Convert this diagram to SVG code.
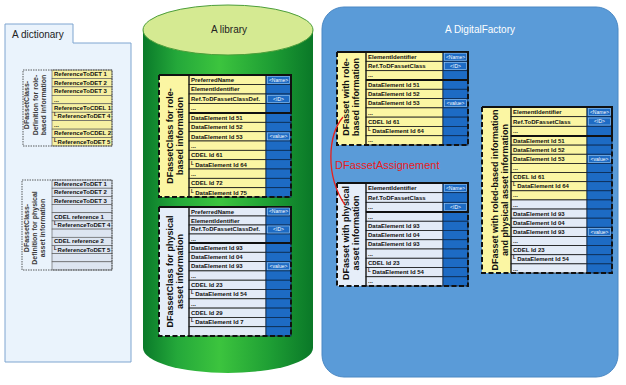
<svg xmlns="http://www.w3.org/2000/svg" width="626" height="385" viewBox="0 0 626 385">
<style>
.ry{fill:#fbf6a3;stroke:#1a1a1a;stroke-width:.8}
.rb{fill:#e3ebf7;stroke:#1a1a1a;stroke-width:.8}
.vc{fill:#1d6bc4;stroke:#0d2b52;stroke-width:.8}
.ly{fill:#fbf6a3}
.lb{fill:#e6eef9}
.dash{fill:none;stroke:#111;stroke-width:2;stroke-dasharray:5 2.5}
.solid{fill:none;stroke:#111;stroke-width:2}
.sep{stroke:#111;stroke-width:1}
.t{font-family:"Liberation Sans",Arial,sans-serif;font-weight:bold;font-size:6px;fill:#111}
.m{font-size:4.5px}
.v{font-family:"Liberation Sans",Arial,sans-serif;font-size:5px;fill:#fff;text-anchor:middle}
.vb{fill:none;stroke:#9cc8f2;stroke-width:.6}
.lab{font-family:"Liberation Sans",Arial,sans-serif;font-weight:bold;font-size:9px;fill:#111;text-anchor:middle}
.dlab{font-family:"Liberation Sans",Arial,sans-serif;font-weight:bold;font-size:7px;fill:#3a3a3a;text-anchor:middle}
.dry{fill:#f6f0a2;stroke:#555;stroke-width:.6}
.drb{fill:#dde5f1;stroke:#555;stroke-width:.6}
.ddash{fill:none;stroke:#333;stroke-width:.8;stroke-dasharray:1.5 1}
.title{font-family:"Liberation Sans",Arial,sans-serif;font-size:10px;fill:#222}
</style>
<defs>
<linearGradient id="cyl" x1="0" y1="0" x2="1" y2="0">
<stop offset="0" stop-color="#0a7a2a"/>
<stop offset="0.2" stop-color="#24a83a"/>
<stop offset="0.45" stop-color="#3cc43e"/>
<stop offset="0.75" stop-color="#1e9e34"/>
<stop offset="1" stop-color="#0a7828"/>
</linearGradient>
</defs>

<g id="dictionary">
<path d="M5 43 V24 H73 V43 H131 V362 H5 Z" fill="#eaf3fc" stroke="#7fa5d0" stroke-width="1"/>
<text class="title" x="12" y="38">A dictionary</text>
</g>

<g id="dict-role">
<rect x="23" y="70" width="29" height="76" fill="#eaf3fc"/>
<rect class="dry" x="52" y="70" width="60" height="8.44"/>
<rect class="dry" x="52" y="78.44" width="60" height="8.44"/>
<rect class="dry" x="52" y="86.89" width="60" height="8.44"/>
<rect class="dry" x="52" y="95.33" width="60" height="8.44"/>
<rect class="dry" x="52" y="103.78" width="60" height="8.44"/>
<rect class="dry" x="52" y="112.22" width="60" height="8.44"/>
<rect class="dry" x="52" y="120.67" width="60" height="8.44"/>
<rect class="dry" x="52" y="129.11" width="60" height="8.44"/>
<rect class="dry" x="52" y="137.56" width="60" height="8.44"/>
<rect class="ddash" x="23" y="70" width="89" height="76"/>
<text class="t" x="54" y="76.2">ReferenceToDET 1</text>
<text class="t" x="54" y="84.6">ReferenceToDET 2</text>
<text class="t" x="54" y="93.1">ReferenceToDET 3</text>
<text class="t" x="54" y="101.5">...</text>
<text class="t" x="54" y="110">ReferenceToCDEL 1</text>
<text class="t" x="54" y="118.4"><tspan class="m" dy="-2">L</tspan><tspan dx="0.8" dy="2">ReferenceToDET 4</tspan></text>
<text class="t" x="54" y="126.9">...</text>
<text class="t" x="54" y="135.3">ReferenceToCDEL 2</text>
<text class="t" x="54" y="143.8"><tspan class="m" dy="-2">L</tspan><tspan dx="0.8" dy="2">ReferenceToDET 5</tspan></text>
<text class="dlab" transform="translate(29.3,105) rotate(-90)">DFassetClass-</text>
<text class="dlab" transform="translate(37.6,105) rotate(-90)">Definition for role-</text>
<text class="dlab" transform="translate(45.9,105) rotate(-90)">based information</text>
</g>

<g id="dict-physical">
<rect x="22" y="180" width="30" height="90" fill="#eaf3fc"/>
<rect class="drb" x="52" y="180" width="60" height="8.18"/>
<rect class="drb" x="52" y="188.18" width="60" height="8.18"/>
<rect class="drb" x="52" y="196.36" width="60" height="8.18"/>
<rect class="drb" x="52" y="204.55" width="60" height="8.18"/>
<rect class="drb" x="52" y="212.73" width="60" height="8.18"/>
<rect class="drb" x="52" y="220.91" width="60" height="8.18"/>
<rect class="drb" x="52" y="229.09" width="60" height="8.18"/>
<rect class="drb" x="52" y="237.27" width="60" height="8.18"/>
<rect class="drb" x="52" y="245.45" width="60" height="8.18"/>
<rect class="drb" x="52" y="253.64" width="60" height="8.18"/>
<rect class="drb" x="52" y="261.82" width="60" height="8.18"/>
<rect class="ddash" x="22" y="180" width="90" height="90"/>
<text class="t" x="54" y="186.1">ReferenceToDET 1</text>
<text class="t" x="54" y="194.3">ReferenceToDET 2</text>
<text class="t" x="54" y="202.5">ReferenceToDET 3</text>
<text class="t" x="54" y="218.8">CDEL reference 1</text>
<text class="t" x="54" y="227"><tspan class="m" dy="-2">L</tspan><tspan dx="0.8" dy="2">ReferenceToDET 4</tspan></text>
<text class="t" x="54" y="243.4">CDEL reference 2</text>
<text class="t" x="54" y="251.6"><tspan class="m" dy="-2">L</tspan><tspan dx="0.8" dy="2">ReferenceToDET 5</tspan></text>
<text class="dlab" transform="translate(28.5,228) rotate(-90)">DFassetClass-</text>
<text class="dlab" transform="translate(36.8,228) rotate(-90)">Definition for physical</text>
<text class="dlab" transform="translate(45.1,228) rotate(-90)">asset information</text>
</g>

<g id="library">
<path d="M143 30 V348 A85 25 0 0 0 313 348 V30 Z" fill="url(#cyl)"/>
<ellipse cx="228" cy="30" rx="85" ry="25" fill="#d5ea92" stroke="#4c9e3a" stroke-width="1"/>
<text class="title" x="229" y="33" text-anchor="middle">A library</text>
</g>

<g id="lib-role">
<rect class="ly" x="159" y="75" width="30" height="122"/>
<rect class="ry" x="189" y="75" width="77" height="9.5"/><rect class="vc" x="266" y="75" width="25" height="9.5"/>
<rect class="ry" x="189" y="84.5" width="77" height="9.5"/><rect class="vc" x="266" y="84.5" width="25" height="9.5"/>
<rect class="ry" x="189" y="94" width="77" height="9.5"/><rect class="vc" x="266" y="94" width="25" height="9.5"/>
<rect class="ry" x="189" y="103.5" width="77" height="9.5"/><rect class="vc" x="266" y="103.5" width="25" height="9.5"/>
<rect class="ry" x="189" y="113" width="77" height="9.33"/><rect class="vc" x="266" y="113" width="25" height="9.33"/>
<rect class="ry" x="189" y="122.33" width="77" height="9.33"/><rect class="vc" x="266" y="122.33" width="25" height="9.33"/>
<rect class="ry" x="189" y="131.67" width="77" height="9.33"/><rect class="vc" x="266" y="131.67" width="25" height="9.33"/>
<rect class="ry" x="189" y="141" width="77" height="9.33"/><rect class="vc" x="266" y="141" width="25" height="9.33"/>
<rect class="ry" x="189" y="150.33" width="77" height="9.33"/><rect class="vc" x="266" y="150.33" width="25" height="9.33"/>
<rect class="ry" x="189" y="159.67" width="77" height="9.33"/><rect class="vc" x="266" y="159.67" width="25" height="9.33"/>
<rect class="ry" x="189" y="169" width="77" height="9.33"/><rect class="vc" x="266" y="169" width="25" height="9.33"/>
<rect class="ry" x="189" y="178.33" width="77" height="9.33"/><rect class="vc" x="266" y="178.33" width="25" height="9.33"/>
<rect class="ry" x="189" y="187.67" width="77" height="9.33"/><rect class="vc" x="266" y="187.67" width="25" height="9.33"/>
<line class="sep" x1="189" y1="75" x2="189" y2="197"/>
<path class="dash" d="M159 75 V197 H291 V113"/>
<path class="solid" d="M159 75 H291 V113 H189"/>
<text class="t" x="191" y="81.8">PreferredName</text>
<text class="t" x="191" y="91.3">ElementIdentifier</text>
<text class="t" x="191" y="100.6" font-size="4.8">Ref.ToDFassetClassDef.</text>
<text class="t" x="191" y="110.3">...</text>
<text class="t" x="191" y="119.8">DataElement Id 51</text>
<text class="t" x="191" y="129.1">DataElement Id 52</text>
<text class="t" x="191" y="138.5">DataElement Id 53</text>
<text class="t" x="191" y="147.8">...</text>
<text class="t" x="191" y="157.1">CDEL Id 61</text>
<text class="t" x="191" y="166.5"><tspan class="m" dy="-2">L</tspan><tspan dx="1.5" dy="2">DataElement Id 64</tspan></text>
<text class="t" x="191" y="175.8">...</text>
<text class="t" x="191" y="185.1">CDEL Id 72</text>
<text class="t" x="191" y="194.5"><tspan class="m" dy="-2">L</tspan><tspan dx="1.5" dy="2">DataElement Id 75</tspan></text>
<rect class="vb" x="267.5" y="76.3" width="22" height="7"/><text class="v" x="278.5" y="81.6">&lt;Name&gt;</text>
<rect class="vb" x="267.5" y="95.3" width="22" height="7"/><text class="v" x="278.5" y="100.6">&lt;ID&gt;</text>
<rect class="vb" x="267.5" y="132.9" width="22" height="7"/><text class="v" x="278.5" y="138.2">&lt;value&gt;</text>
<text class="lab" transform="translate(172.5,136) rotate(-90)">DFassetClass for role-</text>
<text class="lab" transform="translate(182.5,136) rotate(-90)">based information</text>
</g>

<g id="lib-physical">
<rect class="lb" x="159" y="207" width="30" height="129"/>
<rect class="rb" x="189" y="207" width="77" height="9"/><rect class="vc" x="266" y="207" width="25" height="9"/>
<rect class="rb" x="189" y="216" width="77" height="9"/><rect class="vc" x="266" y="216" width="25" height="9"/>
<rect class="rb" x="189" y="225" width="77" height="9"/><rect class="vc" x="266" y="225" width="25" height="9"/>
<rect class="rb" x="189" y="234" width="77" height="9"/><rect class="vc" x="266" y="234" width="25" height="9"/>
<rect class="rb" x="189" y="243" width="77" height="9.3"/><rect class="vc" x="266" y="243" width="25" height="9.3"/>
<rect class="rb" x="189" y="252.3" width="77" height="9.3"/><rect class="vc" x="266" y="252.3" width="25" height="9.3"/>
<rect class="rb" x="189" y="261.6" width="77" height="9.3"/><rect class="vc" x="266" y="261.6" width="25" height="9.3"/>
<rect class="rb" x="189" y="270.9" width="77" height="9.3"/><rect class="vc" x="266" y="270.9" width="25" height="9.3"/>
<rect class="rb" x="189" y="280.2" width="77" height="9.3"/><rect class="vc" x="266" y="280.2" width="25" height="9.3"/>
<rect class="rb" x="189" y="289.5" width="77" height="9.3"/><rect class="vc" x="266" y="289.5" width="25" height="9.3"/>
<rect class="rb" x="189" y="298.8" width="77" height="9.3"/><rect class="vc" x="266" y="298.8" width="25" height="9.3"/>
<rect class="rb" x="189" y="308.1" width="77" height="9.3"/><rect class="vc" x="266" y="308.1" width="25" height="9.3"/>
<rect class="rb" x="189" y="317.4" width="77" height="9.3"/><rect class="vc" x="266" y="317.4" width="25" height="9.3"/>
<rect class="rb" x="189" y="326.7" width="77" height="9.3"/><rect class="vc" x="266" y="326.7" width="25" height="9.3"/>
<line class="sep" x1="189" y1="207" x2="189" y2="336"/>
<path class="dash" d="M159 207 V336 H291 V243"/>
<path class="solid" d="M159 207 H291 V243 H189"/>
<text class="t" x="191" y="213.5">PreferredName</text>
<text class="t" x="191" y="222.5">ElementIdentifier</text>
<text class="t" x="191" y="231.3" font-size="4.8">Ref.ToDFassetClassDef.</text>
<text class="t" x="191" y="240.5">...</text>
<text class="t" x="191" y="249.7">DataElement Id 93</text>
<text class="t" x="191" y="259">DataElement Id 04</text>
<text class="t" x="191" y="268.3">DataElement Id 93</text>
<text class="t" x="191" y="277.6">...</text>
<text class="t" x="191" y="286.9">CDEL Id 23</text>
<text class="t" x="191" y="296.2"><tspan class="m" dy="-2">L</tspan><tspan dx="1.5" dy="2">DataElement Id 54</tspan></text>
<text class="t" x="191" y="305.5">...</text>
<text class="t" x="191" y="314.8">CDEL Id 29</text>
<text class="t" x="191" y="324.1"><tspan class="m" dy="-2">L</tspan><tspan dx="1.5" dy="2">DataElement Id 7</tspan></text>
<rect class="vb" x="267.5" y="208" width="22" height="7"/><text class="v" x="278.5" y="213.3">&lt;Name&gt;</text>
<rect class="vb" x="267.5" y="226" width="22" height="7"/><text class="v" x="278.5" y="231.3">&lt;ID&gt;</text>
<rect class="vb" x="267.5" y="262.8" width="22" height="7"/><text class="v" x="278.5" y="268.1">&lt;value&gt;</text>
<text class="lab" transform="translate(172.5,271.5) rotate(-90)">DFassetClass for physical</text>
<text class="lab" transform="translate(182.5,271.5) rotate(-90)">asset information</text>
</g>

<g id="factory">
<rect x="322" y="7" width="296" height="370" rx="22" fill="#5a9bd8" stroke="#4a88c4" stroke-width="1"/>
<text class="title" x="480" y="33" text-anchor="middle" fill="#fff" style="fill:#fff">A DigitalFactory</text>
</g>

<g id="fac-role">
<rect class="ly" x="337" y="52" width="29" height="93"/>
<rect class="ry" x="366" y="52" width="77" height="9.33"/><rect class="vc" x="443" y="52" width="25" height="9.33"/>
<rect class="ry" x="366" y="61.33" width="77" height="9.33"/><rect class="vc" x="443" y="61.33" width="25" height="9.33"/>
<rect class="ry" x="366" y="70.67" width="77" height="9.33"/><rect class="vc" x="443" y="70.67" width="25" height="9.33"/>
<rect class="ry" x="366" y="80" width="77" height="9.29"/><rect class="vc" x="443" y="80" width="25" height="9.29"/>
<rect class="ry" x="366" y="89.29" width="77" height="9.29"/><rect class="vc" x="443" y="89.29" width="25" height="9.29"/>
<rect class="ry" x="366" y="98.57" width="77" height="9.29"/><rect class="vc" x="443" y="98.57" width="25" height="9.29"/>
<rect class="ry" x="366" y="107.86" width="77" height="9.29"/><rect class="vc" x="443" y="107.86" width="25" height="9.29"/>
<rect class="ry" x="366" y="117.14" width="77" height="9.29"/><rect class="vc" x="443" y="117.14" width="25" height="9.29"/>
<rect class="ry" x="366" y="126.43" width="77" height="9.29"/><rect class="vc" x="443" y="126.43" width="25" height="9.29"/>
<rect class="ry" x="366" y="135.71" width="77" height="9.29"/><rect class="vc" x="443" y="135.71" width="25" height="9.29"/>
<line class="sep" x1="366" y1="52" x2="366" y2="145"/>
<path class="dash" d="M337 52 V145 H468 V80"/>
<path class="solid" d="M337 52 H468 V80 H366"/>
<text class="t" x="368" y="58.6">ElementIdentifier</text>
<text class="t" x="368" y="67.9">Ref.ToDFassetClass</text>
<text class="t" x="368" y="77.3">...</text>
<text class="t" x="368" y="86.7">DataElement Id 51</text>
<text class="t" x="368" y="96">DataElement Id 52</text>
<text class="t" x="368" y="105.3">DataElement Id 53</text>
<text class="t" x="368" y="114.6">...</text>
<text class="t" x="368" y="123.8">CDEL Id 61</text>
<text class="t" x="368" y="133.1"><tspan class="m" dy="-2">L</tspan><tspan dx="1.5" dy="2">DataElement Id 64</tspan></text>
<text class="t" x="368" y="142.4">...</text>
<rect class="vb" x="444.5" y="53.2" width="22" height="7"/><text class="v" x="455.5" y="58.5">&lt;Name&gt;</text>
<rect class="vb" x="444.5" y="62.5" width="22" height="7"/><text class="v" x="455.5" y="67.8">&lt;ID&gt;</text>
<rect class="vb" x="444.5" y="99.7" width="22" height="7"/><text class="v" x="455.5" y="105">&lt;value&gt;</text>
<text class="lab" transform="translate(349,97) rotate(-90)">DFasset with role-</text>
<text class="lab" transform="translate(359,97) rotate(-90)">based information</text>
</g>

<g id="fac-physical">
<rect class="lb" x="337" y="183" width="29" height="103"/>
<rect class="rb" x="366" y="183" width="77" height="9.67"/><rect class="vc" x="443" y="183" width="25" height="9.67"/>
<rect class="rb" x="366" y="192.67" width="77" height="9.67"/><rect class="vc" x="443" y="192.67" width="25" height="9.67"/>
<rect class="rb" x="366" y="202.33" width="77" height="9.67"/><rect class="vc" x="443" y="202.33" width="25" height="9.67"/>
<rect class="rb" x="366" y="212" width="77" height="9.25"/><rect class="vc" x="443" y="212" width="25" height="9.25"/>
<rect class="rb" x="366" y="221.25" width="77" height="9.25"/><rect class="vc" x="443" y="221.25" width="25" height="9.25"/>
<rect class="rb" x="366" y="230.5" width="77" height="9.25"/><rect class="vc" x="443" y="230.5" width="25" height="9.25"/>
<rect class="rb" x="366" y="239.75" width="77" height="9.25"/><rect class="vc" x="443" y="239.75" width="25" height="9.25"/>
<rect class="rb" x="366" y="249" width="77" height="9.25"/><rect class="vc" x="443" y="249" width="25" height="9.25"/>
<rect class="rb" x="366" y="258.25" width="77" height="9.25"/><rect class="vc" x="443" y="258.25" width="25" height="9.25"/>
<rect class="rb" x="366" y="267.5" width="77" height="9.25"/><rect class="vc" x="443" y="267.5" width="25" height="9.25"/>
<rect class="rb" x="366" y="276.75" width="77" height="9.25"/><rect class="vc" x="443" y="276.75" width="25" height="9.25"/>
<line class="sep" x1="366" y1="183" x2="366" y2="286"/>
<path class="dash" d="M337 183 V286 H468 V212"/>
<path class="solid" d="M337 183 H468 V212 H366"/>
<text class="t" x="368" y="189.8">ElementIdentifier</text>
<text class="t" x="368" y="199.5">Ref.ToDFassetClass</text>
<text class="t" x="368" y="209.1">...</text>
<text class="t" x="368" y="218.7">...</text>
<text class="t" x="368" y="227.9">DataElement Id 93</text>
<text class="t" x="368" y="237.2">DataElement Id 04</text>
<text class="t" x="368" y="246.4">DataElement Id 93</text>
<text class="t" x="368" y="255.7">...</text>
<text class="t" x="368" y="264.9">CDEL Id 23</text>
<text class="t" x="368" y="274.2"><tspan class="m" dy="-2">L</tspan><tspan dx="1.5" dy="2">DataElement Id 54</tspan></text>
<text class="t" x="368" y="283.4">...</text>
<rect class="vb" x="444.5" y="184.3" width="22" height="7"/><text class="v" x="455.5" y="189.6">&lt;Name&gt;</text>
<rect class="vb" x="444.5" y="203.6" width="22" height="7"/><text class="v" x="455.5" y="208.9">&lt;ID&gt;</text>
<text class="lab" transform="translate(349,233) rotate(-90)">DFasset with physical</text>
<text class="lab" transform="translate(359,233) rotate(-90)">asset information</text>
</g>

<g id="fac-combined">
<rect class="ly" x="482" y="107" width="29" height="166"/>
<rect class="ry" x="511" y="107" width="76" height="9.67"/><rect class="vc" x="587" y="107" width="25" height="9.67"/>
<rect class="ry" x="511" y="116.67" width="76" height="9.67"/><rect class="vc" x="587" y="116.67" width="25" height="9.67"/>
<rect class="ry" x="511" y="126.33" width="76" height="9.67"/><rect class="vc" x="587" y="126.33" width="25" height="9.67"/>
<rect class="ry" x="511" y="136" width="76" height="9.13"/><rect class="vc" x="587" y="136" width="25" height="9.13"/>
<rect class="ry" x="511" y="145.13" width="76" height="9.13"/><rect class="vc" x="587" y="145.13" width="25" height="9.13"/>
<rect class="ry" x="511" y="154.27" width="76" height="9.13"/><rect class="vc" x="587" y="154.27" width="25" height="9.13"/>
<rect class="ry" x="511" y="163.4" width="76" height="9.13"/><rect class="vc" x="587" y="163.4" width="25" height="9.13"/>
<rect class="ry" x="511" y="172.53" width="76" height="9.13"/><rect class="vc" x="587" y="172.53" width="25" height="9.13"/>
<rect class="ry" x="511" y="181.67" width="76" height="9.13"/><rect class="vc" x="587" y="181.67" width="25" height="9.13"/>
<rect class="ry" x="511" y="190.8" width="76" height="9.13"/><rect class="vc" x="587" y="190.8" width="25" height="9.13"/>
<rect class="rb" x="511" y="199.93" width="76" height="9.13"/><rect class="vc" x="587" y="199.93" width="25" height="9.13"/>
<rect class="rb" x="511" y="209.07" width="76" height="9.13"/><rect class="vc" x="587" y="209.07" width="25" height="9.13"/>
<rect class="rb" x="511" y="218.2" width="76" height="9.13"/><rect class="vc" x="587" y="218.2" width="25" height="9.13"/>
<rect class="rb" x="511" y="227.33" width="76" height="9.13"/><rect class="vc" x="587" y="227.33" width="25" height="9.13"/>
<rect class="rb" x="511" y="236.47" width="76" height="9.13"/><rect class="vc" x="587" y="236.47" width="25" height="9.13"/>
<rect class="rb" x="511" y="245.6" width="76" height="9.13"/><rect class="vc" x="587" y="245.6" width="25" height="9.13"/>
<rect class="rb" x="511" y="254.73" width="76" height="9.13"/><rect class="vc" x="587" y="254.73" width="25" height="9.13"/>
<rect class="rb" x="511" y="263.87" width="76" height="9.13"/><rect class="vc" x="587" y="263.87" width="25" height="9.13"/>
<line class="sep" x1="511" y1="107" x2="511" y2="273"/>
<path class="dash" d="M482 107 V273 H612 V136"/>
<path class="solid" d="M482 107 H612 V136 H511"/>
<text class="t" x="513" y="113.8">ElementIdentifier</text>
<text class="t" x="513" y="123.5">Ref.ToDFassetClass</text>
<text class="t" x="513" y="133.1">...</text>
<text class="t" x="513" y="142.6">DataElement Id 51</text>
<text class="t" x="513" y="151.7">DataElement Id 52</text>
<text class="t" x="513" y="160.9">DataElement Id 53</text>
<text class="t" x="513" y="170">...</text>
<text class="t" x="513" y="179.1">CDEL Id 61</text>
<text class="t" x="513" y="188.3"><tspan class="m" dy="-2">L</tspan><tspan dx="1.5" dy="2">DataElement Id 64</tspan></text>
<text class="t" x="513" y="197.4">...</text>
<text class="t" x="513" y="206.5">...</text>
<text class="t" x="513" y="215.7">DataElement Id 93</text>
<text class="t" x="513" y="224.8">DataElement Id 04</text>
<text class="t" x="513" y="233.9">DataElement Id 93</text>
<text class="t" x="513" y="243.1">...</text>
<text class="t" x="513" y="252.2">CDEL Id 23</text>
<text class="t" x="513" y="261.3"><tspan class="m" dy="-2">L</tspan><tspan dx="1.5" dy="2">DataElement Id 54</tspan></text>
<text class="t" x="513" y="270.5">...</text>
<rect class="vb" x="588.5" y="108.3" width="22" height="7"/><text class="v" x="599.5" y="113.6">&lt;Name&gt;</text>
<rect class="vb" x="588.5" y="118" width="22" height="7"/><text class="v" x="599.5" y="123.3">&lt;ID&gt;</text>
<rect class="vb" x="588.5" y="155.3" width="22" height="7"/><text class="v" x="599.5" y="160.6">&lt;value&gt;</text>
<rect class="vb" x="588.5" y="228.4" width="22" height="7"/><text class="v" x="599.5" y="233.7">&lt;value&gt;</text>
<text class="lab" transform="translate(497.5,190) rotate(-90)">DFasset with roled-based information</text>
<text class="lab" transform="translate(507.5,190) rotate(-90)">and physical asset information</text>
</g>

<g id="connectors">
<path d="M343 117 C328 135 325 175 345 205" fill="none" stroke="#e8201c" stroke-width="1.3"/>
<text x="335" y="169" font-family="Liberation Sans, Arial, sans-serif" font-size="11" fill="#e8201c">DFassetAssignement</text>
</g>
</svg>
